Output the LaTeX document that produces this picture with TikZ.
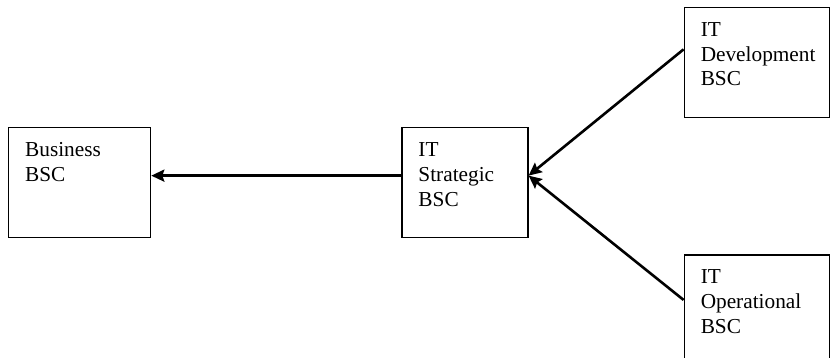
\documentclass[tikz,border=0pt]{standalone}
\usepackage{fontspec}
\setmainfont{Liberation Serif}
\usetikzlibrary{positioning,arrows.meta}

\newcommand{\bsclines}[2]{\parbox[t][80pt][t]{#1}{\raggedright #2}}

\begin{document}
\begin{tikzpicture}[x=1pt, y=1pt, node distance={250pt}, thick,
  bsc/.style = {draw, line width=1.3pt, inner xsep=16.5pt, inner ysep=15pt, font=\fontsize{21.3}{24.8}\selectfont},
  link/.style = {line width=2.6pt, -{Stealth[length=13pt, width=12pt, inset=2pt]}}]
\useasboundingbox (0,0) rectangle (831,-358);
\node[bsc, anchor=north west] (biz) at (8,-127) {\bsclines{109pt}{Business\\BSC}};
\node[bsc] (strat) [right=of biz] {\bsclines{93pt}{IT\\Strategic\\BSC}};
\node[bsc] (dev) [above right=9pt and 155pt of strat] {\bsclines{112pt}{IT\\Development\\BSC}};
\node[bsc] (ops) [below right=16pt and 155pt of strat] {\bsclines{112pt}{IT\\Operational\\BSC}};
\draw[link] ([yshift=7pt]strat.west) -- ([yshift=7pt]biz.east);
\draw[link] ([yshift=13pt]dev.west) -- ([yshift=7pt]strat.east);
\draw[link] ([yshift=10pt]ops.west) -- ([yshift=7pt]strat.east);
\end{tikzpicture}
\end{document}
